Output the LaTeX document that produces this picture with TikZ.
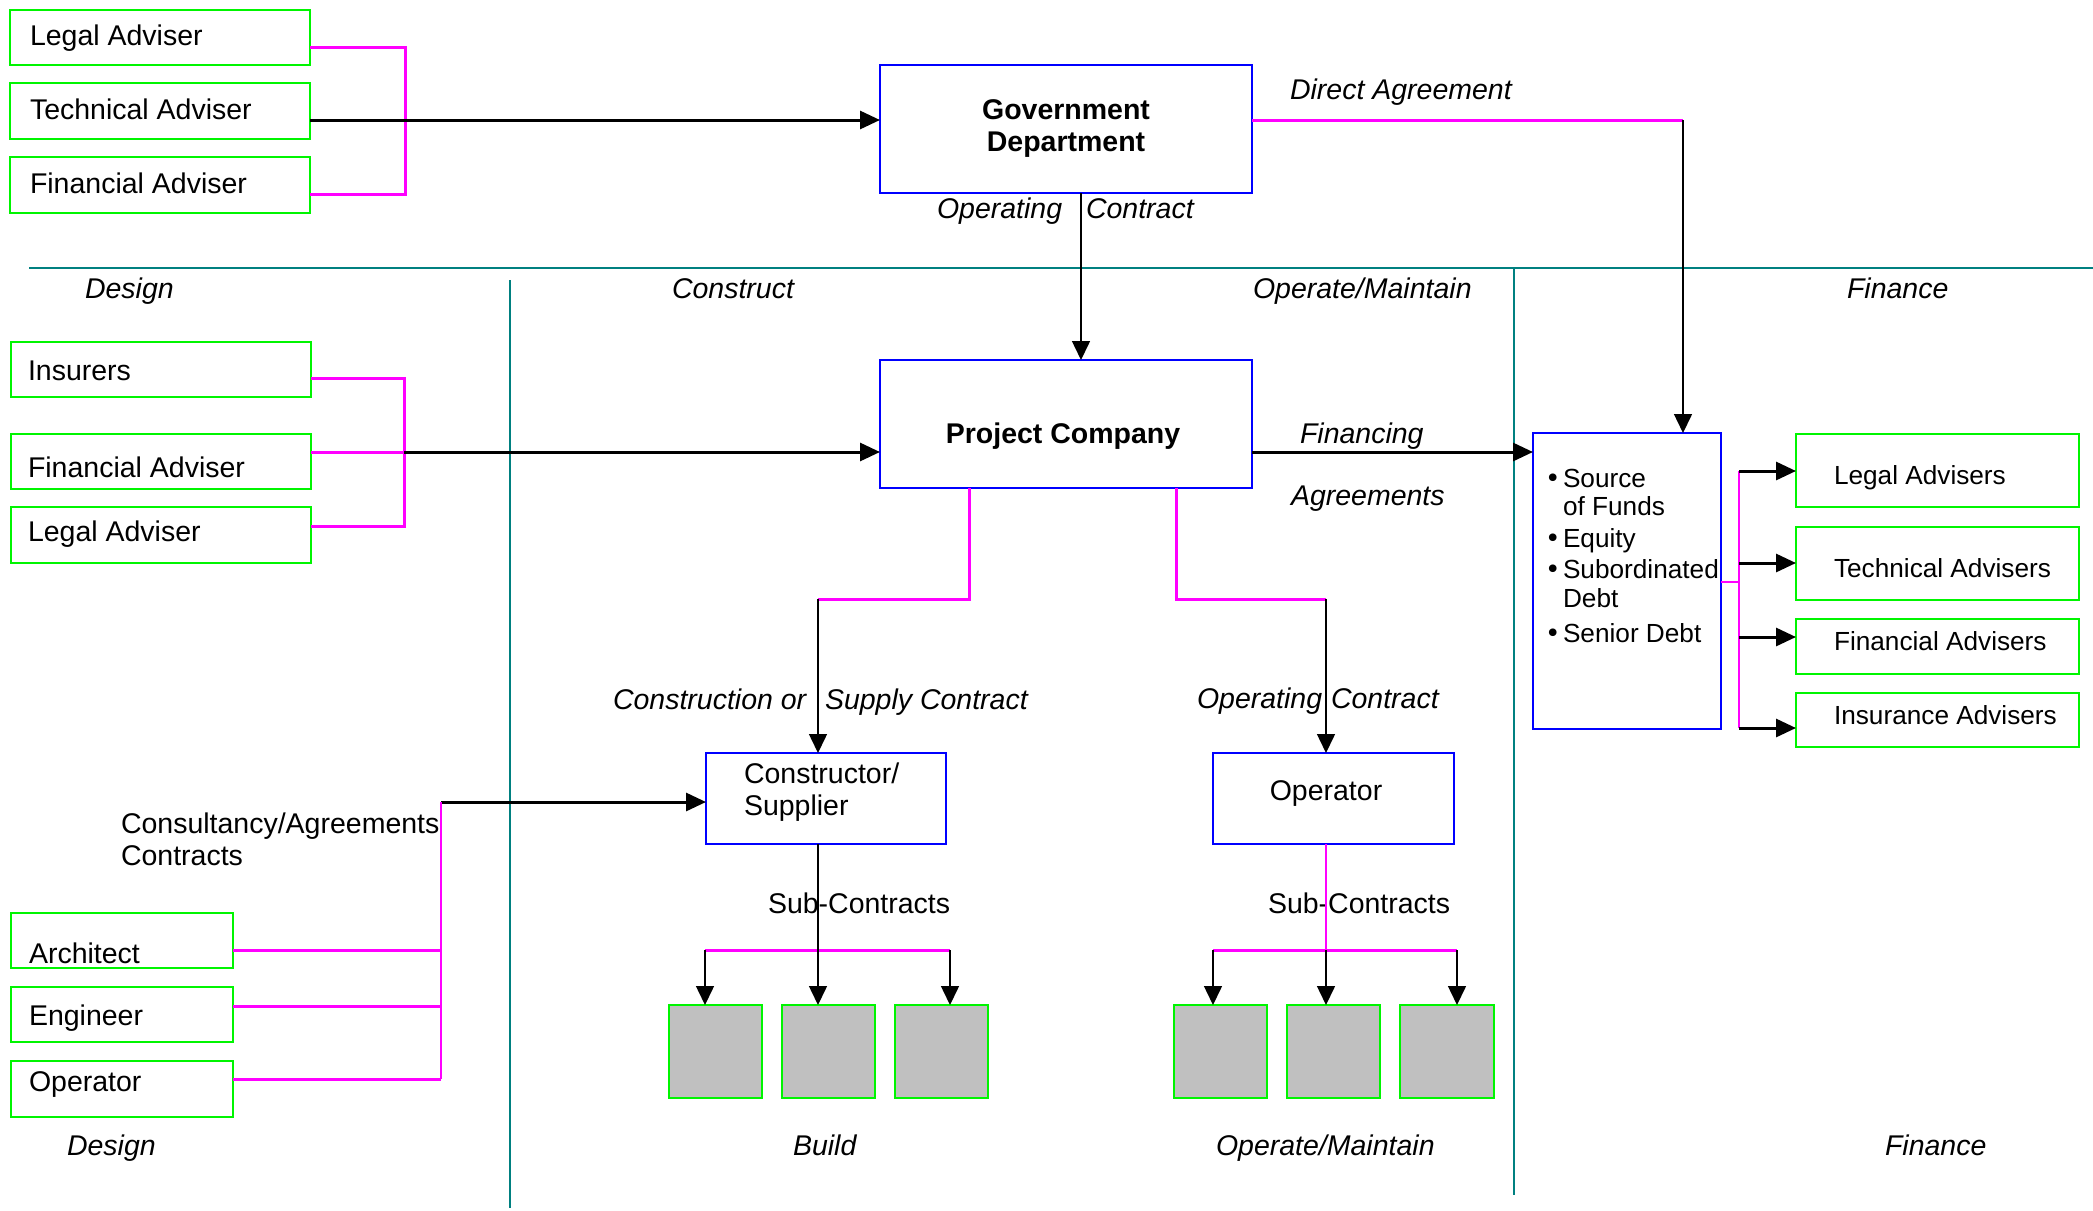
\documentclass[tikz,border=0pt]{standalone}
\usepackage{fontspec}
\setmainfont{Liberation Sans}
\newfontfamily\bulletfont{DejaVu Sans}
\usetikzlibrary{arrows.meta}
\definecolor{grn}{RGB}{0,245,0}
\definecolor{blu}{RGB}{0,0,255}
\definecolor{mag}{RGB}{255,0,255}
\definecolor{tea}{RGB}{0,128,128}
\definecolor{gry}{RGB}{192,192,192}
% list bullet set in a fixed-width box in front of a list item
\newcommand\fundbullet{\makebox[18pt][l]{\bulletfont •}}

\begin{document}
\begin{tikzpicture}[x=1pt,y=-1pt,
  every node/.style={font=\fontsize{28.5}{32}\selectfont, inner sep=0pt, outer sep=0pt},
  box/.style={draw, anchor=north west},
  gbox/.style={box, draw=grn, line width=2.5pt},
  bbox/.style={box, draw=blu, line width=2.5pt},
  sbox/.style={gbox, fill=gry, minimum width=93pt, minimum height=93pt},
  txt/.style={anchor=base west},
  smalltxt/.style={anchor=base west, font=\fontsize{26.2}{30}\selectfont},
  itx/.style={anchor=base west, font=\fontsize{28.5}{32}\selectfont\itshape},
  magline/.style={draw=mag, line width=3pt},
  magthin/.style={draw=mag, line width=1.5pt},
  arr/.style={draw=black, line width=3pt, -{Triangle[length=20pt,width=18pt]}},
  thinarr/.style={draw=black, line width=1.5pt, -{Triangle[length=19pt,width=18pt]}},
  divider/.style={draw=tea, line width=1.5pt},
]
\fill[white] (0,0) rectangle (2093,1210);
\useasboundingbox (0,0) rectangle (2093,1210);

% ---- phase dividers
\draw[divider] (29,268) -- (2093,268);
\draw[divider] (510,280) -- (510,1208);
\draw[divider] (1514,268) -- (1514,1195);

% ---- phase headings
\node[itx] (hdes) at (85,298) {Design};
\node[itx] (hcon) at (672,298) {Construct};
\node[itx] (hope) at (1253,298) {Operate/Maintain};
\node[itx] (hfin) at (1847,298) {Finance};
\node[itx] (fdes) at (67,1155) {Design};
\node[itx] (fbld) at (793,1155) {Build};
\node[itx] (fope) at (1216,1155) {Operate/Maintain};
\node[itx] (ffin) at (1885,1155) {Finance};

% ---- government advisers
\node[gbox, minimum width=300pt, minimum height=55pt] (la1) at (10,10) {};
\node[gbox, minimum width=300pt, minimum height=56pt] (ta1) at (10,83) {};
\node[gbox, minimum width=300pt, minimum height=56pt] (fa1) at (10,157) {};
\node[txt] (la1t) at (30,45) {Legal Adviser};
\node[txt] (ta1t) at (30,119) {Technical Adviser};
\node[txt] (fa1t) at (30,193) {Financial Adviser};

% ---- government department
\node[bbox, minimum width=372pt, minimum height=128pt, align=center,
      font=\fontsize{28.5}{32}\selectfont\bfseries] (gd) at (880,65)
      {Government\\Department};
\node[itx] (opc1) at (937,218) {Operating};
\node[itx] (opc2) at (1086,218) {Contract};
\node[itx] (dat) at (1290,99) {Direct Agreement};

% ---- project company advisers
\node[gbox, minimum width=300pt, minimum height=55pt] (ins) at (11,342) {};
\node[gbox, minimum width=300pt, minimum height=55pt] (fa2) at (11,434) {};
\node[gbox, minimum width=300pt, minimum height=56pt] (la2) at (11,507) {};
\node[txt] (inst) at (28,380) {Insurers};
\node[txt] (fa2t) at (28,477) {Financial Adviser};
\node[txt] (la2t) at (28,541) {Legal Adviser};

% ---- project company
\node[bbox, minimum width=372pt, minimum height=128pt] (pc) at (880,360) {};
\node[anchor=base, font=\fontsize{28.5}{32}\selectfont\bfseries] (pct) at (1063,443) {Project Company};
\node[itx] (fin1) at (1300,443) {Financing};
\node[itx] (fin2) at (1291,505) {Agreements};

% ---- sources of funds
\node[bbox, minimum width=188pt, minimum height=296pt] (fb) at (1533,433) {};
\node[smalltxt] (s1) at (1545,487) {\fundbullet Source};
\node[smalltxt] (s2) at (1563,515) {of Funds};
\node[smalltxt] (s3) at (1545,547) {\fundbullet Equity};
\node[smalltxt] (s4) at (1545,578) {\fundbullet Subordinated};
\node[smalltxt] (s5) at (1563,607) {Debt};
\node[smalltxt] (s6) at (1545,642) {\fundbullet Senior Debt};

% ---- finance advisers
\node[gbox, minimum width=283pt, minimum height=73pt] (lad) at (1796,434) {};
\node[gbox, minimum width=283pt, minimum height=73pt] (tad) at (1796,527) {};
\node[gbox, minimum width=283pt, minimum height=55pt] (fad) at (1796,619) {};
\node[gbox, minimum width=283pt, minimum height=54pt] (iad) at (1796,693) {};
\node[smalltxt] (ladt) at (1834,484) {Legal Advisers};
\node[smalltxt] (tadt) at (1834,577) {Technical Advisers};
\node[smalltxt] (fadt) at (1834,650) {Financial Advisers};
\node[smalltxt] (iadt) at (1834,724) {Insurance Advisers};

% ---- contractors
\node[bbox, minimum width=240pt, minimum height=91pt] (cs) at (706,753) {};
\node[txt] (cst1) at (744,783) {Constructor/};
\node[txt] (cst2) at (744,815) {Supplier};
\node[bbox, minimum width=241pt, minimum height=91pt] (op) at (1213,753) {};
\node[anchor=base] (opt) at (1326,800) {Operator};
\node[itx] (csc1) at (613,709) {Construction or};
\node[itx] (csc2) at (825,709) {Supply Contract};
\node[itx] (ocl1) at (1197,708) {Operating};
\node[itx] (ocl2) at (1331,708) {Contract};
\node[txt] (sub1) at (768,913) {Sub-Contracts};
\node[txt] (sub2) at (1268,913) {Sub-Contracts};

% ---- design consultants
\node[txt] (cag1) at (121,833) {Consultancy/Agreements};
\node[txt] (cag2) at (121,865) {Contracts};
\node[gbox, minimum width=222pt, minimum height=55pt] (arch) at (11,913) {};
\node[gbox, minimum width=222pt, minimum height=55pt] (eng) at (11,987) {};
\node[gbox, minimum width=222pt, minimum height=56pt] (opr) at (11,1061) {};
\node[txt] (archt) at (29,963) {Architect};
\node[txt] (engt) at (29,1025) {Engineer};
\node[txt] (oprt) at (29,1091) {Operator};

% ---- sub-contractors
\node[sbox] (k1) at (669,1005) {};
\node[sbox] (k2) at (782,1005) {};
\node[sbox] (k3) at (895,1005) {};
\node[sbox] (q1) at (1174,1005) {};
\node[sbox] (q2) at (1287,1005) {};
\node[sbox, minimum width=94pt] (q3) at (1400,1005) {};

% ---- junction points
\coordinate (j1) at (405,120);
\coordinate (j2) at (404,452);
\coordinate (da) at (1683,120);
\coordinate (gx) at (1081,0);
\coordinate (m1) at (969,599);
\coordinate (m2) at (818,599);
\coordinate (n1) at (1176,599);
\coordinate (n2) at (1326,599);
\coordinate (ca) at (441,802);
\coordinate (cb) at (441,1079);
\coordinate (sl) at (705,950);
\coordinate (sm) at (818,950);
\coordinate (sr) at (950,950);
\coordinate (ol) at (1213,950);
\coordinate (om) at (1326,950);
\coordinate (or) at (1457,950);
\coordinate (fx) at (1739,582);
\coordinate (ft) at (1739,471);
\coordinate (f2) at (1739,563);
\coordinate (f3) at (1739,637);
\coordinate (fbt) at (1739,728);

% ---- government adviser links
\draw[magline] ([yshift=-9.5pt]la1.east) -| (j1) |- ([yshift=-9pt]fa1.east);
\draw[arr] (ta1.east |- j1) -- (gd.west |- j1);

% ---- direct agreement
\draw[magline] (gd.east |- j1) -- (da);
\draw[thinarr] (da) -- (fb.north -| da);

% ---- operating contract to project company
\draw[thinarr] (gd.south -| gx) -- (pc.north -| gx);

% ---- project company adviser links
\draw[magline] ([yshift=-8.5pt]ins.east) -| (j2) |- ([yshift=9pt]la2.east);
\draw[magline] (fa2.east |- j2) -- (j2);
\draw[arr] (j2) -- (pc.west |- j2);

% ---- financing agreements
\draw[arr] (pc.east |- j2) -- (fb.west |- j2);

% ---- construction and operating contracts
\draw[magline] (pc.south -| m1) -- (m1) -- (m2);
\draw[thinarr] (m2) -- (cs.north -| m2);
\draw[magline] (pc.south -| n1) -- (n1) -- (n2);
\draw[thinarr] (n2) -- (op.north -| n2);

% ---- consultancy agreements
\draw[arr] (ca) -- (cs.west |- ca);
\draw[magthin] (ca) -- (cb);
\draw[magline] ([yshift=-9.5pt]arch.east) -- ([yshift=-9.5pt]arch.east -| ca);
\draw[magline] ([yshift=8.5pt]eng.east) -- ([yshift=8.5pt]eng.east -| ca);
\draw[magline] ([yshift=10pt]opr.east) -- (cb);

% ---- construction sub-contracts
\draw[magline] (sl) -- (sr);
\draw[thinarr] (cs.south -| sm) -- (k2.north -| sm);
\draw[thinarr] (sl) -- (k1.north -| sl);
\draw[thinarr] (sr) -- (k3.north -| sr);

% ---- operating sub-contracts
\draw[magthin] (op.south -| om) -- (om);
\draw[magline] (ol) -- (or);
\draw[thinarr] (ol) -- (q1.north -| ol);
\draw[thinarr] (om) -- (q2.north -| om);
\draw[thinarr] (or) -- (q3.north -| or);

% ---- finance adviser links
\draw[magthin] (fb.east |- fx) -- (fx);
\draw[magthin] (ft) -- (fbt);
\draw[arr] (ft) -- (lad.west |- ft);
\draw[arr] (f2) -- (tad.west |- f2);
\draw[arr] (f3) -- (fad.west |- f3);
\draw[arr] (fbt) -- (iad.west |- fbt);
\end{tikzpicture}
\end{document}
